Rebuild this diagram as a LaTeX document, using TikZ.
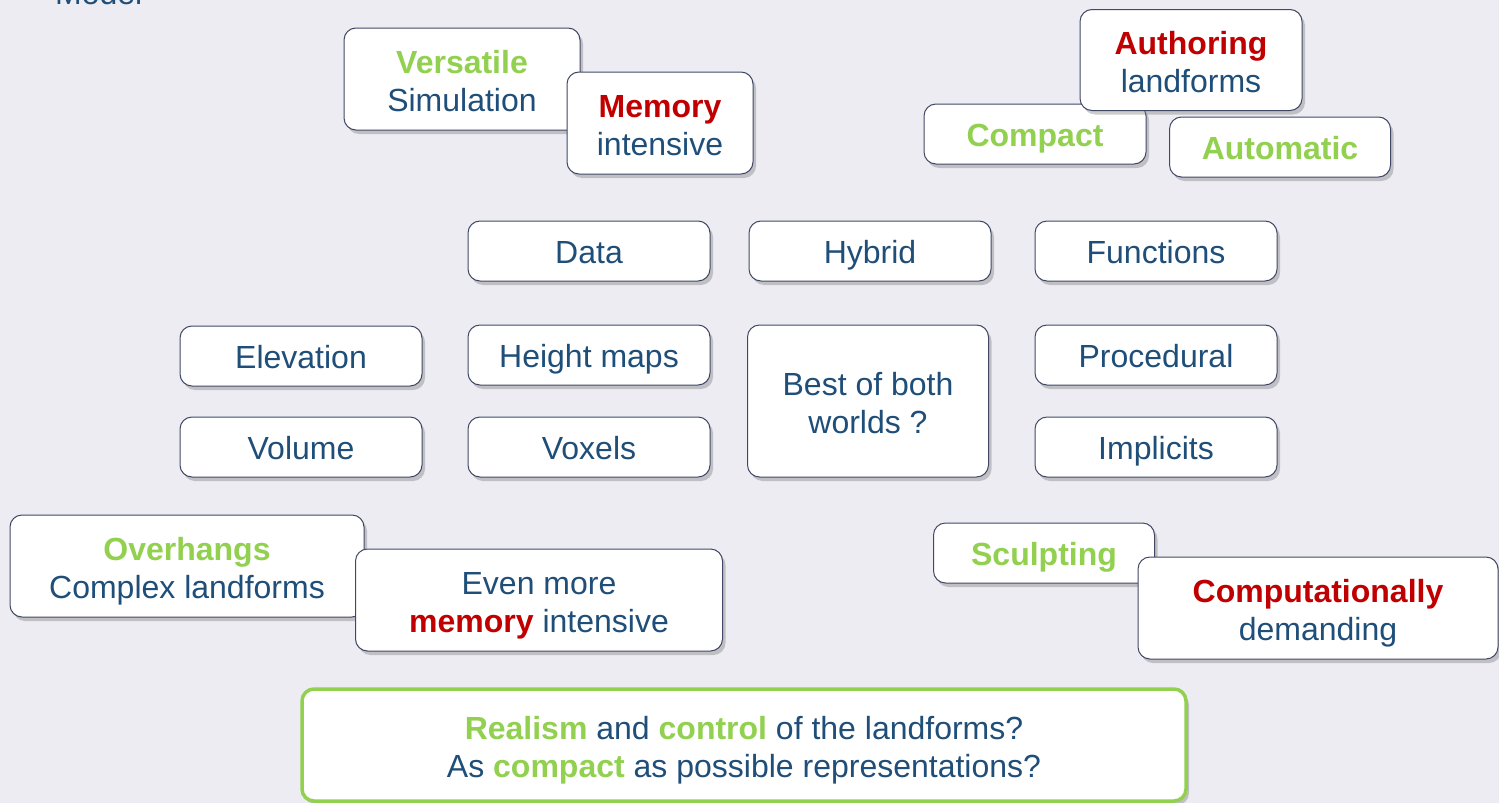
\documentclass[tikz,border=0pt]{standalone}
\usepackage{fontspec}
\setmainfont{Liberation Sans}
\usetikzlibrary{shadows}
\definecolor{txtblue}{RGB}{31,78,121}
\definecolor{goodcol}{RGB}{146,208,80}
\definecolor{badcol}{RGB}{192,0,0}
\definecolor{bgcol}{RGB}{236,236,242}
\definecolor{edgecol}{RGB}{64,72,102}
\newcommand{\goodtxt}[1]{\textcolor{goodcol}{\textbf{#1}}}
\newcommand{\badtxt}[1]{\textcolor{badcol}{\textbf{#1}}}
\newcommand{\upstrut}{\rule{0pt}{34pt}}
\newcommand{\downstrut}{\rule[-7pt]{0pt}{7pt}}

\begin{document}
\begin{tikzpicture}[x=1pt,y=-1pt,font=\fontsize{32}{38}\selectfont,
  box/.style={draw=edgecol,line width=1pt,fill=white,rounded corners=12pt,text=txtblue,align=center,inner sep=0pt,
    drop shadow={opacity=0.4,shadow xshift=3pt,shadow yshift=-4pt}},
  onebox/.style={box,text height=31pt,text depth=7pt}]
  \clip (0,0) rectangle (1499,803);
  \fill[bgcol] (0,0) rectangle (1499,803);
  \node[anchor=base west,text=txtblue,inner sep=0pt] (model) at (55,5) {Model};
  % trade-offs, top
  \foreach \n/\cx/\cy/\w/\h/\t in {vers/462/79/236/102/{\upstrut\goodtxt{Versatile}\\Simulation\downstrut},
      mem/660/123/186/102/{\upstrut\badtxt{Memory}\\intensive\downstrut}}
    \node[box,minimum width=\w pt,minimum height=\h pt] (\n) at (\cx,\cy) {\t};
  \node[onebox,minimum width=222pt,minimum height=60pt] (compact) at (1035,134) {\goodtxt{Compact}};
  \node[onebox,minimum width=221pt,minimum height=60pt] (auto) at (1280,147) {\goodtxt{Automatic}};
  \node[box,minimum width=222pt,minimum height=101pt] (auth) at (1191,60) {\upstrut\badtxt{Authoring}\\landforms\downstrut};
  % representations
  \foreach \n/\cx/\cy/\t in {data/589/251/Data,hybrid/870/251/Hybrid,functions/1156/251/Functions,
      elev/301/356/Elevation,hmaps/589/355/Height maps,proc/1156/355/Procedural,
      vol/301/447/Volume,voxels/589/447/Voxels,impl/1156/447/Implicits}
    \node[onebox,minimum width=242pt,minimum height=60pt] (\n) at (\cx,\cy) {\t};
  \node[box,minimum width=241pt,minimum height=152pt] (best) at (868,401) {\upstrut Best of both\\worlds ?\downstrut};
  % trade-offs, bottom
  \foreach \n/\cx/\cy/\w/\h/\t in {over/187/566/354/102/{\upstrut\goodtxt{Overhangs}\\Complex landforms\downstrut},
      evenmore/539/600/367/102/{\upstrut Even more\\\badtxt{memory} intensive\downstrut}}
    \node[box,minimum width=\w pt,minimum height=\h pt] (\n) at (\cx,\cy) {\t};
  \node[onebox,minimum width=221pt,minimum height=60pt] (sculpt) at (1044,553) {\goodtxt{Sculpting}};
  \node[box,minimum width=360pt,minimum height=102pt] (compdem) at (1318,608) {\upstrut\badtxt{Computationally}\\demanding\downstrut};
  \node[box,draw=goodcol,line width=3.5pt,minimum width=884pt,minimum height=112pt] (question) at (744,745)
    {\upstrut\goodtxt{Realism} and \goodtxt{control} of the landforms?\\As \goodtxt{compact} as possible representations?\downstrut};
\end{tikzpicture}
\end{document}
